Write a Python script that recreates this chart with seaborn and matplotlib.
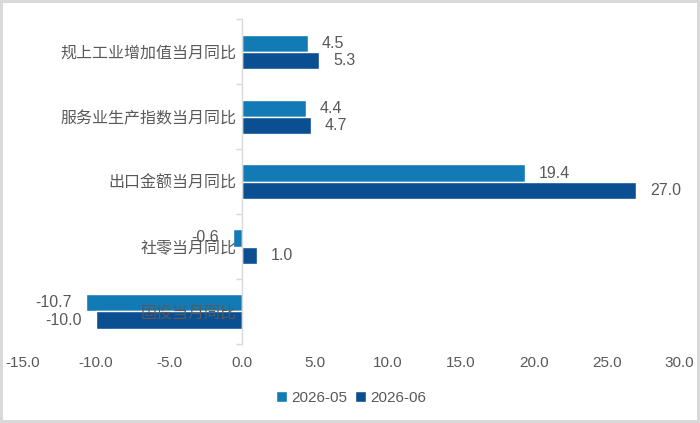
import pandas as pd
import seaborn as sns
import matplotlib.pyplot as plt
from matplotlib.ticker import FixedLocator, FuncFormatter

categories = ['规上工业增加值当月同比', '服务业生产指数当月同比', '出口金额当月同比', '社零当月同比', '固投当月同比']
series_names = ['2026-05', '2026-06']
may_values = [4.5, 4.4, 19.4, -0.6, -10.7]
june_values = [5.3, 4.7, 27.0, 1.0, -10.0]
x_ticks = [-15, -10, -5, 0, 5, 10, 15, 20, 25, 30]

colors = ['#127ab4', '#0a4f92']
grey = '#595959'

df = pd.DataFrame({
    'cat': categories * 2,
    'series': [series_names[0]] * len(categories) + [series_names[1]] * len(categories),
    'value': may_values + june_values,
})

sns.set_theme(style='white')
plt.rcParams['font.family'] = ['Liberation Sans', 'Noto Sans CJK SC', 'DejaVu Sans']

fig = plt.figure(figsize=(7, 4.23), dpi=100)
fig.patch.set_edgecolor('#d9d9d9')
fig.patch.set_linewidth(3)
ax = fig.add_axes([0.033, 0.187, 0.938, 0.767])

sns.barplot(data=df, y='cat', x='value', hue='series', order=categories,
            hue_order=series_names, palette=colors, orient='h', width=0.53,
            saturation=1, ax=ax, legend=True)

for cont in ax.containers:
    ax.bar_label(cont, fmt='%.1f', padding=10, color=grey, fontsize=11.5)

ax.set_xlim(-15, 30)
ax.set_ylim(len(categories) - 0.5, -0.5)
ax.set_xticks(x_ticks)
ax.xaxis.set_major_formatter(FuncFormatter(lambda v, p: f'{v:.1f}'))
ax.tick_params(axis='x', length=0, labelsize=11, labelcolor=grey, pad=9)

for s in ['top', 'right', 'bottom']:
    ax.spines[s].set_visible(False)
ax.spines['left'].set_position(('data', 0))
ax.spines['left'].set_color('#d9d9d9')
ax.spines['left'].set_linewidth(1)

ax.yaxis.set_minor_locator(FixedLocator([i - 0.5 for i in range(len(categories) + 1)]))
ax.tick_params(axis='y', which='major', length=0, labelsize=11.5, labelcolor=grey, pad=4)
ax.tick_params(axis='y', which='minor', left=True, length=4, color='#d9d9d9', width=1)
ax.set_axisbelow(False)
ax.yaxis.set_zorder(5)
ax.set_xlabel('')
ax.set_ylabel('')

ax.legend(loc='center', bbox_to_anchor=(0.5, -0.167), ncol=2, frameon=False,
          handlelength=0.7, handleheight=0.7, handletextpad=0.3, columnspacing=0.5,
          fontsize=11, labelcolor=grey)

fig.savefig('out.png', dpi=100, edgecolor=fig.get_edgecolor())
